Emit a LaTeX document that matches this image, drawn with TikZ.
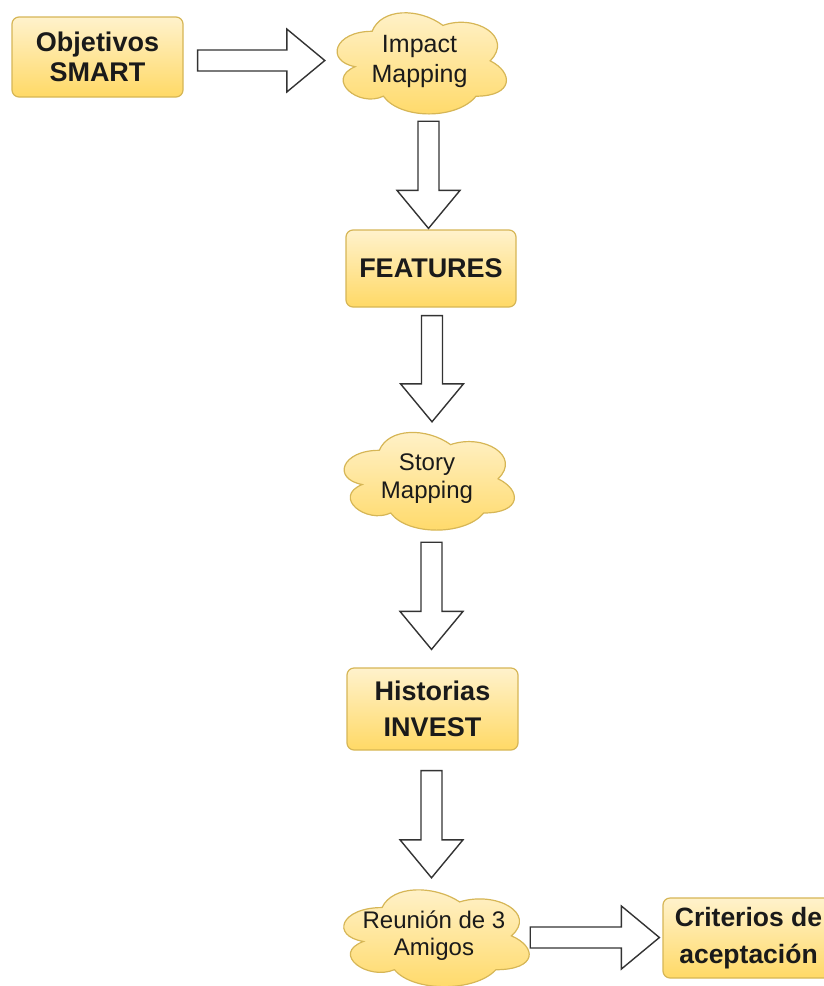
\documentclass[tikz,border=0pt]{standalone}
\usepackage{fontspec}
\setmainfont{Liberation Sans}
\usetikzlibrary{calc,backgrounds}

\definecolor{boxtop}{HTML}{FFF2CC}
\definecolor{boxbot}{HTML}{FFD966}
\definecolor{boxline}{HTML}{D6B656}
\definecolor{arrowline}{HTML}{333333}
\definecolor{ink}{HTML}{1A1A1A}

\tikzset{
  stepbox/.style={draw=boxline, line width=1.2pt, rounded corners=7pt,
    top color=boxtop, bottom color=boxbot, text=ink, align=center,
    inner sep=0pt, font=\bfseries\fontsize{27}{36}\selectfont},
  cloudnode/.style={inner sep=0pt, text=ink, align=center,
    font=\fontsize{24}{28}\selectfont},
  cloudfill/.style={draw=boxline, line width=1.2pt,
    top color=boxtop, bottom color=boxbot},
  blockarrow/.style={draw=arrowline, fill=white, line width=1.4pt,
    line join=miter},
}

% cloud outline drawn inside the box of a named node (#2 x #3)
\newcommand\cloudshape[3]{%
  \path[cloudfill, shift={(#1.north west)}, x=#2pt, y=-#3pt]
    (0.25,0.25) .. controls (0.05,0.25) and (0,0.5) .. (0.16,0.55)
    .. controls (0,0.66) and (0.18,0.9) .. (0.31,0.8)
    .. controls (0.4,1) and (0.7,1) .. (0.8,0.8)
    .. controls (1,0.8) and (1,0.6) .. (0.875,0.5)
    .. controls (1,0.3) and (0.8,0.1) .. (0.625,0.2)
    .. controls (0.5,0.05) and (0.3,0.05) .. (0.25,0.25) -- cycle;}

% hollow block arrow from #1 to the tip #2
\newcommand\blockarrow[2]{%
  \path #1 coordinate (ba-s) #2 coordinate (ba-t);
  \path ($(ba-t)!38pt!(ba-s)$) coordinate (ba-h);
  \draw[blockarrow]
    ($(ba-s)!10.5pt!90:(ba-t)$) -- ($(ba-h)!10.5pt!90:(ba-t)$)
    -- ($(ba-h)!31.5pt!90:(ba-t)$) -- (ba-t)
    -- ($(ba-h)!31.5pt!-90:(ba-t)$) -- ($(ba-h)!10.5pt!-90:(ba-t)$)
    -- ($(ba-s)!10.5pt!-90:(ba-t)$) -- cycle;}

\begin{document}
\begin{tikzpicture}[x=1pt, y=-1pt]
  \useasboundingbox (0,0) rectangle (823,986);

  % steps
  \node[stepbox, minimum width=171pt, minimum height=80pt, font=\bfseries\fontsize{27}{30}\selectfont]
    (obj) at (97.5,57) {Objetivos\\SMART};
  \node[cloudnode, minimum width=189pt, minimum height=118pt, font=\fontsize{25}{30}\selectfont]
    (imp) at (419.5,61) {Impact\\Mapping};
  \node[stepbox, minimum width=170pt, minimum height=77pt]
    (feat) at (431,268.5) {FEATURES};
  \node[cloudnode, minimum width=190pt, minimum height=114pt]
    (story) at (427,479) {Story\\Mapping};
  \node[stepbox, minimum width=171pt, minimum height=82pt]
    (hist) at (432.5,709) {Historias\\INVEST};
  \node[cloudnode, minimum width=207pt, minimum height=113pt, font=\fontsize{24}{27}\selectfont]
    (reu) at (434,936) {Reunión de 3\\Amigos};
  \node[stepbox, minimum width=171pt, minimum height=80pt, font=\bfseries\fontsize{26.5}{37}\selectfont]
    (crit) at (748.5,938) {Criterios de\\aceptación};

  \begin{pgfonlayer}{background}
    \cloudshape{imp}{189}{118}
    \cloudshape{story}{190}{114}
    \cloudshape{reu}{207}{113}
  \end{pgfonlayer}

  % flow
  \blockarrow{($(obj.east)+(14,3.5)$)}{($(imp.west)+(0,-0.5)$)}
  \blockarrow{($(imp.south)+(9,1)$)}{($(feat.north)+(-2.5,-1)$)}
  \blockarrow{($(feat.south)+(1,8)$)}{($(story.north)+(5,0)$)}
  \blockarrow{($(story.south)+(4.5,6)$)}{($(hist.north)+(-1,-18)$)}
  \blockarrow{($(hist.south)+(-1,20)$)}{($(reu.north)+(-2.5,-1.5)$)}
  \blockarrow{($(reu.east)+(-7.5,1.5)$)}{($(crit.west)+(-3,-0.5)$)}
\end{tikzpicture}
\end{document}
